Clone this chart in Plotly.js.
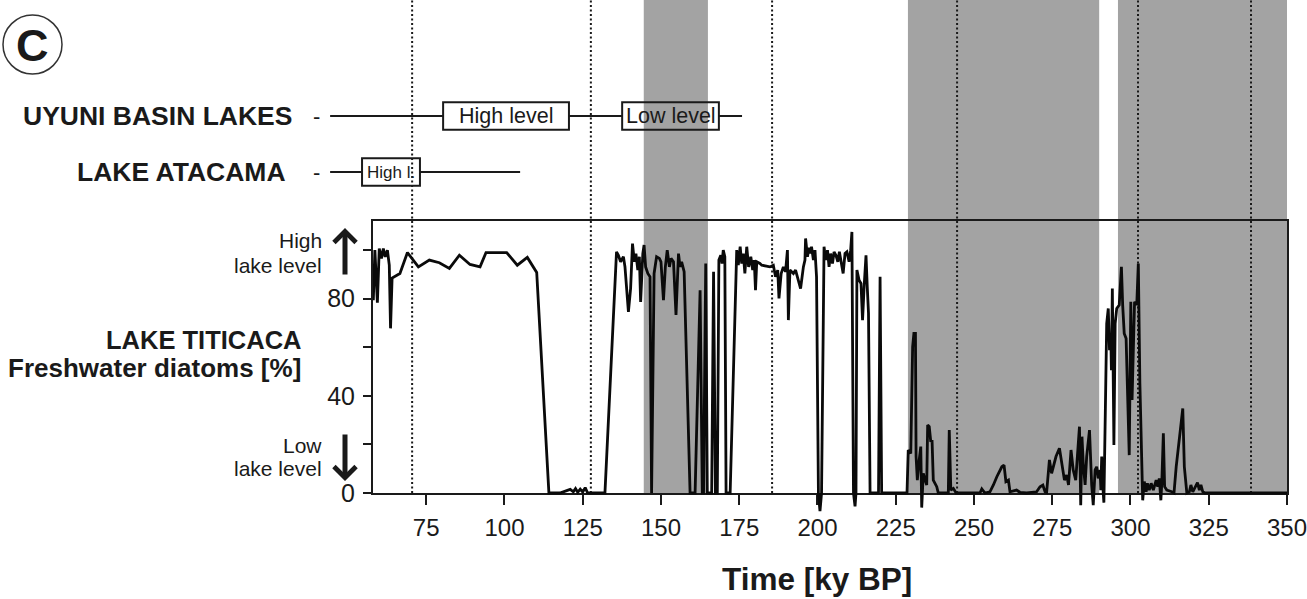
<!DOCTYPE html>
<html><head><meta charset="utf-8">
<script src="https://cdn.plot.ly/plotly-3.0.1.min.js"></script>
<style>html,body{margin:0;padding:0;background:#fff;}#chart{width:1307px;height:599px;}</style>
</head><body><div id="chart"></div>
<script>
// ---------------- data ----------------
const timeKy = [
58.1,58.6,59.4,60.0,60.7,61.3,61.9,62.6,63.2,63.6,64.1,66.6,69.0,72.5,76.0,79.2,82.4,85.6,89.0,92.2,94.1,100.7,104.1,107.3,110.3,114.2,117.7,121.0,122.0,122.7,123.4,124.2,125.0,125.8,126.5,127.4,132.1,
135.8,136.4,137.1,138.0,138.5,139.6,140.3,140.9,141.5,142.0,142.6,143.1,143.5,144.2,144.6,145.1,145.8,146.5,147.0,147.8,148.6,149.5,150.0,150.8,151.4,152.0,152.7,153.2,154.0,154.8,155.6,156.1,156.6,157.4,158.4,159.3,160.9,162.5,163.2,163.6,164.3,164.8,166.2,166.8,167.4,168.0,168.5,169.1,169.5,169.9,170.4,170.8,172.1,174.2,174.7,175.3,175.8,176.3,176.8,177.4,178.0,178.7,179.3,179.8,180.2,180.6,181.6,
182.2,184.8,185.9,186.6,187.3,187.7,188.4,189.1,189.8,190.4,190.7,191.2,192.3,193.0,193.9,194.6,195.5,196.0,196.2,196.8,197.3,197.7,198.1,198.7,199.2,199.7,200.3,200.8,201.3,202.1,202.6,203.2,203.7,204.2,204.8,205.3,205.9,206.5,207.0,207.5,208.2,208.8,209.4,210.1,210.6,211.0,211.5,212.0,212.3,212.6,213.3,213.9,214.4,214.9,215.5,215.9,216.3,216.8,219.5,220.0,220.5,228.6,
229.0,229.8,230.4,230.8,231.3,231.5,231.9,232.5,233.0,233.3,233.8,234.4,234.9,235.2,235.7,236.2,236.6,237.0,237.6,238.1,238.6,241.8,242.1,242.6,243.4,244.3,251.9,252.5,253.5,255.1,256.2,257.3,258.9,259.6,260.2,261.0,261.5,262.6,263.6,264.7,266.8,270.0,271.1,272.0,272.7,273.2,274.1,274.8,276.2,277.3,278.0,278.9,279.6,280.2,281.0,281.7,282.5,283.0,283.7,284.1,284.5,284.9,285.5,286.0,286.9,287.6,288.1,288.7,289.2,289.7,290.3,
290.5,290.8,291.1,291.5,292.1,292.4,292.9,293.3,293.7,293.9,294.2,294.5,294.7,295.1,295.6,296.4,297.1,297.5,298.0,298.6,299.0,299.6,300.1,300.5,300.9,301.3,302.0,302.5,303.0,303.6,303.9,304.4,305.0,305.4,306.0,306.6,307.3,308.2,308.7,309.2,309.7,310.0,310.5,310.9,311.6,313.2,313.9,314.6,315.6,316.7,317.2,318.0,318.8,319.3,319.9,320.7,321.4,322.0,322.5,323.1,323.8,350.0
];
const freshwaterPct = [
79.4,100.0,78.4,100.7,96.6,100.7,97.2,100.0,93.8,67.8,88.5,90.4,99.0,93.1,95.9,94.8,92.5,97.9,94.1,93.1,99.0,99.0,93.8,97.0,90.8,0,0,1.5,0.5,1.8,0.3,1.6,0.4,2.2,0.2,0,0,
99.3,97.9,95.2,97.3,93.1,74.6,84.2,102.7,95.2,98.6,91.8,97.3,78.7,98.6,102.1,93.1,90.4,89.0,0,90.4,97.3,96.6,95.2,79.4,93.1,100.0,93.1,96.6,95.2,73.3,98.6,93.1,95.2,91.1,39.6,0,0,83.5,0,0,94.5,0,0,91.1,0,0,95.9,97.9,94.5,100.0,97.3,0,0,100.0,93.8,101.4,94.5,98.6,90.4,101.4,93.1,97.3,91.8,95.9,83.5,95.2,94.5,
93.8,93.1,93.8,89.0,91.8,80.1,90.4,93.1,91.1,100.0,71.2,91.8,90.4,91.8,87.0,84.2,93.1,95.9,104.8,97.3,101.0,98.6,101.4,95.9,100.0,89.0,0,-7.5,0,101.4,95.9,100.0,93.1,98.6,94.5,99.3,97.9,95.2,99.3,95.9,90.4,98.6,99.3,95.2,100.0,107.5,0,-5.5,0,91.8,87.6,86.3,71.2,84.9,97.9,84.9,74.0,0,0,89.0,0,0,
17.7,16.3,60.2,65.7,65.7,15.0,5.3,13.6,19.1,-6.0,8.1,5.3,3.3,28.0,27.3,21.1,21.8,5.3,4.0,2.6,0,0,25.9,1.2,1.9,0,0,1.7,0,0.5,3.3,6.7,10.8,11.5,4.7,5.3,0.5,1.0,1.2,0.3,0,0.5,2.6,3.3,0.5,0.2,13.6,8.1,15.0,18.4,12.2,5.3,7.4,3.3,17.7,9.5,5.3,15.0,27.3,-5.0,23.2,12.2,3.3,15.0,25.9,3.3,-5.0,9.5,10.8,6.0,9.5,
1.2,15.0,4.0,-4.0,45.1,69.8,76.0,58.8,65.7,50.6,84.2,57.5,19.8,69.8,76.0,77.4,93.1,77.4,65.7,63.6,45.1,15.6,78.7,38.3,58.8,78.7,77.4,94.5,45.1,4.0,-3.0,4.7,0.5,4.0,1.2,4.0,1.2,5.3,2.6,6.0,-3.0,4.0,24.6,2.6,1.2,0.5,0,10.8,23.2,34.8,10.8,0,0.5,3.3,0.5,2.6,4.3,1.2,3.3,0.5,0,0
];
const xTickVals = [75,100,125,150,175,200,225,250,275,300,325,350];
const yTickVals = [0,20,40,60,80,100];
const yTickText = ['0','','40','','80',''];
const shadedPeriods = [[144.5,165.0],[228.9,290.0],[296.0,350.0]];
const dottedLines = [70.5,127.6,185.5,244.6,302.4,338.5];
const uyuniSpan = [44.3,175.9];
const uyuniBoxes = [[80.4,120.6],[137.6,168.5]];
const uyuniBoxLabels = ['High level','Low level'];
const atacamaSpan = [44.3,105.0];
const atacamaBoxes = [[54.5,73.0]];
const atacamaBoxLabels = ['High l.'];
const rowUyuni = 2, rowAtacama = 1;

// ---------------- layout geometry (pixels) ----------------
const W = 1307, H = 599;
const L = 373, R = 1287, T = 221, B = 493;
const XMIN = 58, XMAX = 350, YMIN = 0, YMAX = 112;
const pxPerX = (R - L) / (XMAX - XMIN);
const pxPerY = (B - T) / (YMAX - YMIN);
const px = v => v / W;
const py = v => 1 - v / H;
const DATA_BOTTOM_PX = 516;
const y3min = -(DATA_BOTTOM_PX - B) / pxPerY;
const ROW_PX = 56, UYUNI_PX = 116;
const y2max = rowUyuni + UYUNI_PX / ROW_PX;
const y2min = y2max - T / ROW_PX;
const x2min = XMIN - L / pxPerX;

const FONT = 'Liberation Sans, Arial, Helvetica, sans-serif';
const INK = '#1a1a1a';

function segments(span, boxes, row) {
  const xs = [], ys = [];
  let start = span[0];
  boxes.forEach(b => { xs.push(start, b[0], null); ys.push(row, row, null); start = b[1]; });
  xs.push(start, span[1]); ys.push(row, row);
  return {xs, ys};
}
const uy = segments(uyuniSpan, uyuniBoxes, rowUyuni);
const at = segments(atacamaSpan, atacamaBoxes, rowAtacama);

const traces = [
  {x: uy.xs, y: uy.ys, xaxis: 'x2', yaxis: 'y2', mode: 'lines', line: {color: INK, width: 2}, hoverinfo: 'skip', showlegend: false},
  {x: at.xs, y: at.ys, xaxis: 'x2', yaxis: 'y2', mode: 'lines', line: {color: INK, width: 2}, hoverinfo: 'skip', showlegend: false},
  {x: timeKy, y: freshwaterPct, xaxis: 'x3', yaxis: 'y3', mode: 'lines', line: {color: '#0a0a0a', width: 2.8}, showlegend: false}
];

const shapes = [];
shadedPeriods.forEach(p => shapes.push({type: 'rect', xref: 'x', yref: 'paper', x0: p[0], x1: p[1], y0: py(B), y1: 1, fillcolor: '#a3a3a3', line: {width: 0}, layer: 'below'}));
dottedLines.forEach(v => shapes.push({type: 'line', xref: 'x', yref: 'paper', x0: v, x1: v, y0: py(B), y1: 1, line: {color: INK, width: 2, dash: '2px,2.5px'}, layer: 'below'}));
function boxShapes(boxes, row) {
  boxes.forEach(b => shapes.push({type: 'rect', xref: 'x2', yref: 'y2', x0: b[0], x1: b[1], y0: row - 0.245, y1: row + 0.245, line: {color: INK, width: 2}, fillcolor: 'rgba(0,0,0,0)', layer: 'above'}));
}
boxShapes(uyuniBoxes, rowUyuni);
boxShapes(atacamaBoxes, rowAtacama);
shapes.push({type: 'circle', xref: 'paper', yref: 'paper', x0: px(3), x1: px(62), y0: py(74), y1: py(15), line: {color: '#333', width: 1.5}});

const ann = [];
function txt(text, x, y, size, opts) {
  ann.push(Object.assign({text: text, x: x, y: y, xref: 'paper', yref: 'paper', showarrow: false, xanchor: 'right', yanchor: 'middle',
    font: {family: FONT, size: size, color: INK}}, opts || {}));
}
txt('<b>C</b>', px(32.5), py(45), 45, {xanchor: 'center'});
txt('<b>UYUNI BASIN LAKES</b>', px(294), rowUyuni, 26.5, {yref: 'y2'});
txt('<b>LAKE ATACAMA</b>', px(288), rowAtacama, 26.5, {yref: 'y2'});
txt('-', px(322), rowUyuni, 22, {yref: 'y2'});
txt('-', px(322), rowAtacama, 22, {yref: 'y2'});
uyuniBoxes.forEach((b, i) => txt(uyuniBoxLabels[i], (b[0] + b[1]) / 2, rowUyuni, 21.5, {xref: 'x2', yref: 'y2', xanchor: 'center'}));
atacamaBoxes.forEach((b, i) => txt(atacamaBoxLabels[i], (b[0] + b[1]) / 2, rowAtacama, 17, {xref: 'x2', yref: 'y2', xanchor: 'center'}));
txt('High', px(324), py(241), 21);
txt('lake level', px(324), py(265), 21);
txt('<b>LAKE TITICACA</b>', px(303), py(340), 25.5);
txt('<b>Freshwater diatoms [%]</b>', px(303), py(368), 26);
txt('Low', px(324), py(445), 21);
txt('lake level', px(324), py(468), 21);
txt('<b>Time [ky BP]</b>', px(817), py(579), 31.5, {xanchor: 'center'});
// arrows
ann.push({x: px(345), y: py(228), xref: 'paper', yref: 'paper', ax: 0, ay: 48, text: '', showarrow: true, arrowhead: 4, arrowsize: 0.85, arrowwidth: 5, arrowcolor: INK});
ann.push({x: px(345), y: py(481), xref: 'paper', yref: 'paper', ax: 0, ay: -48, text: '', showarrow: true, arrowhead: 4, arrowsize: 0.85, arrowwidth: 5, arrowcolor: INK});

const hidden = {showline: false, showgrid: false, zeroline: false, showticklabels: false, ticks: ''};
const layout = {
  width: W, height: H, autosize: false,
  margin: {l: 0, r: 0, t: 0, b: 0, pad: 0},
  paper_bgcolor: '#ffffff', plot_bgcolor: 'rgba(0,0,0,0)',
  showlegend: false,
  font: {family: FONT, color: INK},
  xaxis: {domain: [px(L), px(R)], range: [XMIN, XMAX], anchor: 'y', tickvals: xTickVals, ticks: 'outside', ticklen: 10, tickwidth: 2, tickcolor: INK,
    showline: true, linecolor: INK, linewidth: 2, mirror: true, showgrid: false, zeroline: false, ticklabeloverflow: 'allow',
    tickfont: {family: FONT, size: 24, color: INK}, ticklabelstandoff: 2},
  yaxis: {domain: [py(B), py(T)], range: [YMIN, YMAX], anchor: 'x', tickvals: yTickVals, ticktext: yTickText, ticks: 'outside', ticklen: 8, tickwidth: 2, tickcolor: INK,
    showline: true, linecolor: INK, linewidth: 2, mirror: true, showgrid: false, zeroline: false,
    tickfont: {family: FONT, size: 25, color: INK}, ticklabelstandoff: 3},
  xaxis2: Object.assign({domain: [0, px(R)], range: [x2min, XMAX], anchor: 'y2'}, hidden),
  yaxis2: Object.assign({domain: [py(T), 1], range: [y2min, y2max], anchor: 'x2'}, hidden),
  xaxis3: Object.assign({domain: [px(L), px(R)], range: [XMIN, XMAX], anchor: 'y3'}, hidden),
  yaxis3: Object.assign({domain: [py(DATA_BOTTOM_PX), py(T)], range: [y3min, YMAX], anchor: 'x3'}, hidden),
  shapes: shapes,
  annotations: ann
};
Plotly.newPlot('chart', traces, layout, {staticPlot: true, displayModeBar: false});
</script>
</body></html>
